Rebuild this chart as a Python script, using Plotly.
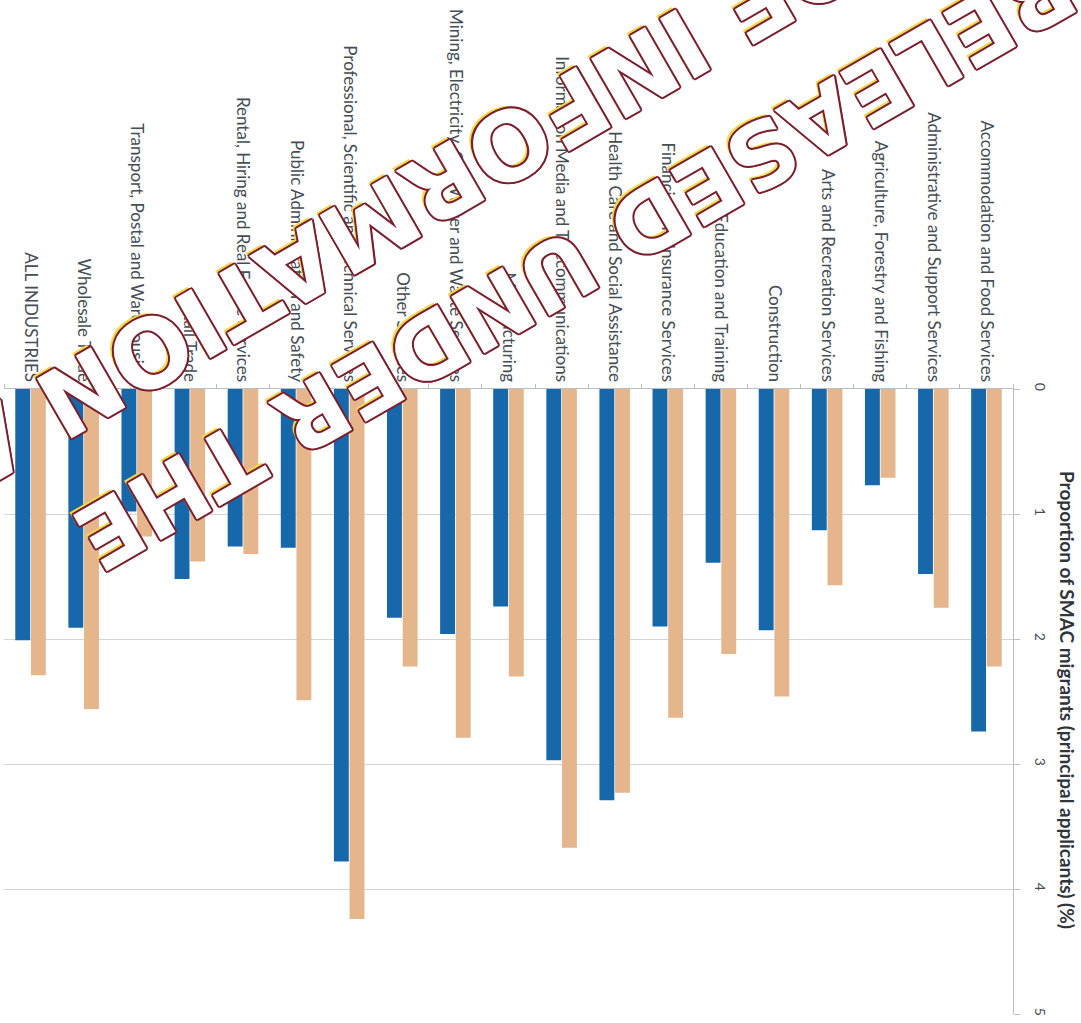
import plotly.graph_objects as go

# Industries, left to right (alphabetical order reads right to left)
categories = [
    "ALL INDUSTRIES",
    "Wholesale Trade",
    "Transport, Postal and Warehousing",
    "Retail Trade",
    "Rental, Hiring and Real Estate Services",
    "Public Administration and Safety",
    "Professional, Scientific and Technical Services",
    "Other Services",
    "Mining, Electricity, Gas, Water and Waste Services",
    "Manufacturing",
    "Information Media and Telecommunications",
    "Health Care and Social Assistance",
    "Financial and Insurance Services",
    "Education and Training",
    "Construction",
    "Arts and Recreation Services",
    "Agriculture, Forestry and Fishing",
    "Administrative and Support Services",
    "Accommodation and Food Services",
]

# Proportion of SMAC migrants (principal applicants), %
share_a = [2.01, 1.91, 0.98, 1.52, 1.26, 1.27, 3.78, 1.83, 1.96, 1.74,
           2.97, 3.29, 1.90, 1.39, 1.93, 1.13, 0.77, 1.48, 2.74]
share_b = [2.29, 2.56, 1.18, 1.38, 1.32, 2.49, 4.24, 2.22, 2.79, 2.30,
           3.67, 3.23, 2.63, 2.12, 2.46, 1.57, 0.71, 1.75, 2.22]

value_ticks = [0, 1, 2, 3, 4, 5]
axis_title = "Proportion of SMAC migrants (principal applicants) (%)"

# Release stamp lines: text, centre point (pixels), font size
stamp_lines = [
    ("RELEASED UNDER THE", (575, 261), 90),
    ("OF INFORMATION ACT", (346, 238), 95),
]

W, H = 1081, 1023
M_L, M_R, M_T, M_B = 4, 68, 389, 9
PLOT_W = W - M_L - M_R
PLOT_H = H - M_T - M_B

BLUE = "#1767ab"
TAN = "#e5b68b"
TEXT = "#454d55"
GRID = "#d3d6d9"
AXIS = "#b9bec3"


def px_to_paper(px, py):
    return (px - M_L) / PLOT_W, (H - M_B - py) / PLOT_H


fig = go.Figure()
fig.add_bar(x=categories, y=share_a, name="A", marker_color=BLUE,
            marker_line_width=0)
fig.add_bar(x=categories, y=share_b, name="B", marker_color=TAN,
            marker_line_width=0)

fig.update_layout(
    width=W, height=H,
    margin=dict(l=M_L, r=M_R, t=M_T, b=M_B, autoexpand=False),
    barmode="group", bargap=0.41, bargroupgap=0.05,
    plot_bgcolor="white", paper_bgcolor="white",
    showlegend=False,
    font=dict(family="Lato", color=TEXT),
)

fig.update_xaxes(
    type="category", categoryorder="array", categoryarray=categories,
    side="top", tickangle=90,
    tickfont=dict(family="Lato", size=17, color=TEXT),
    showline=True, linecolor=AXIS, linewidth=1,
    ticks="outside", tickson="boundaries", ticklen=4, tickcolor=AXIS,
    showgrid=False, zeroline=False,
)

fig.update_yaxes(
    range=[5, 0], side="right",
    tickvals=value_ticks, ticktext=[str(v) for v in value_ticks],
    tickangle=90, tickfont=dict(family="Lato", size=14, color=TEXT),
    ticklabelstandoff=9,
    showgrid=True, gridcolor=GRID, gridwidth=1,
    zeroline=False, showline=True, linecolor=AXIS, linewidth=1,
    ticks="outside", ticklen=6, tickcolor=AXIS,
)

# Axis title, reading top to bottom on the right
tx, ty = px_to_paper(1068, 700)
fig.add_annotation(
    text=axis_title, xref="paper", yref="paper", x=tx, y=ty,
    xanchor="center", yanchor="middle",
    textangle=90, showarrow=False,
    font=dict(family="Lato", size=19, color="#2f353b", weight="bold"),
)

# Outlined release stamp across the top of the chart
outline = "#7b1f2e"
shadow = ", ".join([
    f"2px 0 0 {outline}", f"-2px 0 0 {outline}",
    f"0 2px 0 {outline}", f"0 -2px 0 {outline}",
    f"1.5px 1.5px 0 {outline}", f"-1.5px -1.5px 0 {outline}",
    f"1.5px -1.5px 0 {outline}", f"-1.5px 1.5px 0 {outline}",
    "2px 4px 0 #f0d84a",
])
for text, (cx, cy), size in stamp_lines:
    sx, sy = px_to_paper(cx, cy)
    fig.add_annotation(
        text=text, xref="paper", yref="paper", x=sx, y=sy,
        xanchor="center", yanchor="middle",
        textangle=150, showarrow=False,
        font=dict(family="DejaVu Sans", size=size, color="white",
                  weight="bold", shadow=shadow),
    )

fig.write_html("out.html")
